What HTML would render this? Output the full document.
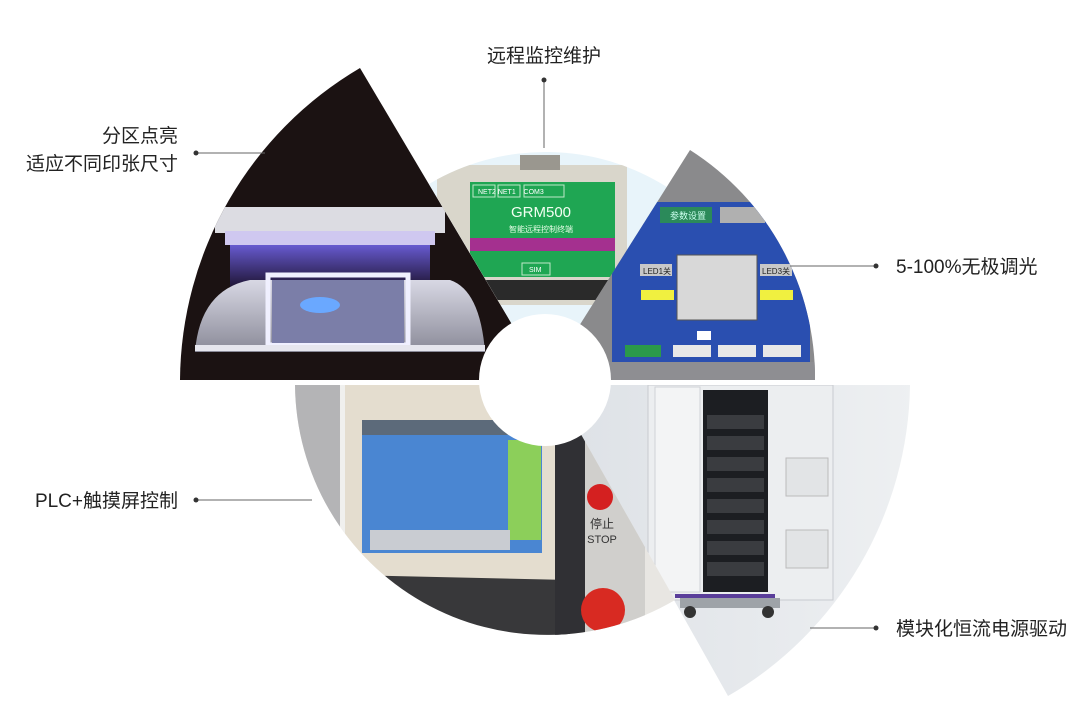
<!DOCTYPE html>
<html><head><meta charset="utf-8"><style>
html,body{margin:0;padding:0;background:#fff;width:1080px;height:715px;overflow:hidden}
svg{display:block}
text{font-family:"Liberation Sans","Noto Sans CJK SC",sans-serif;fill:#222}
</style></head><body>
<svg width="1080" height="715" viewBox="0 0 1080 715">
<defs>
<clipPath id="cDark"><path d="M545 380 L360 68 A365 365 0 0 0 180 380 Z"/></clipPath>
<clipPath id="cGreen"><path d="M545 380 L429 184 A228 228 0 0 1 667 187 Z"/></clipPath>
<clipPath id="cBlue"><path d="M545 380 L690 150 A270 270 0 0 1 815 380 Z"/></clipPath>
<clipPath id="cBR"><path d="M553 385 L910 385 A365 365 0 0 1 728 696 Z"/></clipPath>
<clipPath id="cBL"><path d="M553 385 L295 385 A252 252 0 0 0 675 600 Z"/></clipPath>
<linearGradient id="glow" x1="0" y1="0" x2="0" y2="1"><stop offset="0" stop-color="#7a6cff"/><stop offset="1" stop-color="#1a1030"/></linearGradient>
<linearGradient id="drum" x1="0" y1="0" x2="0" y2="1"><stop offset="0" stop-color="#d8d8e4"/><stop offset="1" stop-color="#8a8a98"/></linearGradient>
<linearGradient id="brbg" x1="0" y1="0" x2="1" y2="0"><stop offset="0" stop-color="#dde1e6"/><stop offset="1" stop-color="#eef0f2"/></linearGradient>
</defs>

<g clip-path="url(#cDark)">
<rect x="170" y="60" width="400" height="330" fill="#1b1212"/>
<rect x="215" y="207" width="230" height="26" fill="#dcdce2"/>
<rect x="225" y="231" width="210" height="14" fill="#cfc8f0"/>
<rect x="230" y="245" width="200" height="45" fill="url(#glow)" opacity="0.8"/>
<path d="M195 352 Q200 290 250 280 L450 280 Q480 290 485 352 Z" fill="url(#drum)"/>
<rect x="268" y="275" width="140" height="70" fill="none" stroke="#f0f0ff" stroke-width="5"/>
<rect x="272" y="280" width="132" height="63" fill="#7b7ea8"/>
<ellipse cx="320" cy="305" rx="20" ry="8" fill="#6aa8ff"/>
<rect x="195" y="345" width="290" height="6" fill="#e6e6ee"/>
</g>

<g clip-path="url(#cGreen)">
<rect x="420" y="140" width="260" height="250" fill="#e8f4fa"/>
<rect x="437" y="165" width="190" height="140" fill="#d9d6cb"/>
<rect x="520" y="155" width="40" height="15" fill="#9a978f"/>
<rect x="470" y="182" width="145" height="95" fill="#1fa653"/>
<rect x="470" y="238" width="145" height="13" fill="#a4308f"/>
<text x="541" y="217" font-size="15" text-anchor="middle" style="fill:#f2fff2">GRM500</text>
<text x="541" y="232" font-size="8" text-anchor="middle" style="fill:#e8ffe8">智能远程控制终端</text>
<rect x="473" y="185" width="22" height="12" fill="none" stroke="#bfe8c8"/>
<rect x="498" y="185" width="22" height="12" fill="none" stroke="#bfe8c8"/>
<rect x="524" y="185" width="40" height="12" fill="none" stroke="#bfe8c8"/>
<text x="478" y="194" font-size="7" style="fill:#fff">NET2 NET1 &#160;&#160;&#160;COM3</text>
<rect x="522" y="263" width="28" height="12" fill="none" stroke="#bfe8c8"/>
<text x="529" y="272" font-size="7" style="fill:#fff">SIM</text>
<rect x="470" y="280" width="145" height="20" fill="#2a2a2a"/>
</g>

<g clip-path="url(#cBlue)">
<rect x="560" y="140" width="270" height="250" fill="#8a8a8c"/>
<rect x="612" y="202" width="198" height="160" fill="#2a4fb0"/>
<rect x="660" y="207" width="52" height="16" fill="#2b8a5a"/>
<text x="670" y="219" font-size="9" style="fill:#cfe">参数设置</text>
<rect x="720" y="207" width="45" height="16" fill="#b0b0b0"/>
<rect x="640" y="264" width="32" height="12" fill="#c8c8c8"/>
<text x="643" y="274" font-size="8" style="fill:#222">LED1关</text>
<rect x="760" y="264" width="32" height="12" fill="#c8c8c8"/>
<text x="762" y="274" font-size="8" style="fill:#222">LED3关</text>
<rect x="641" y="290" width="33" height="10" fill="#f0f040"/>
<rect x="760" y="290" width="33" height="10" fill="#f0f040"/>
<rect x="677" y="255" width="80" height="65" fill="#d8d8d8" stroke="#555"/>
<rect x="625" y="345" width="36" height="12" fill="#2b9a4a"/>
<rect x="673" y="345" width="38" height="12" fill="#e8e8e8"/>
<rect x="718" y="345" width="38" height="12" fill="#e8e8e8"/>
<rect x="763" y="345" width="38" height="12" fill="#e8e8e8"/>
<rect x="697" y="331" width="14" height="9" fill="#fff"/>
<rect x="560" y="362" width="270" height="20" fill="#8e8e92"/>
</g>

<g clip-path="url(#cBR)">
<rect x="550" y="385" width="370" height="320" fill="url(#brbg)"/>
<rect x="648" y="385" width="185" height="215" fill="#eceef0" stroke="#c8cbd0"/>
<rect x="655" y="387" width="45" height="205" fill="#f3f4f5" stroke="#cfd2d6"/>
<rect x="703" y="390" width="65" height="202" fill="#1c1e22"/>
<g fill="#3a3c40"><rect x="707" y="415" width="57" height="14"/><rect x="707" y="436" width="57" height="14"/><rect x="707" y="457" width="57" height="14"/><rect x="707" y="478" width="57" height="14"/><rect x="707" y="499" width="57" height="14"/><rect x="707" y="520" width="57" height="14"/><rect x="707" y="541" width="57" height="14"/><rect x="707" y="562" width="57" height="14"/></g>
<rect x="786" y="458" width="42" height="38" fill="#e2e4e6" stroke="#bbb"/>
<rect x="786" y="530" width="42" height="38" fill="#e2e4e6" stroke="#bbb"/>
<rect x="675" y="594" width="100" height="4" fill="#5a3e9a"/>
<rect x="680" y="598" width="100" height="10" fill="#9ea3a8"/>
<circle cx="768" cy="612" r="6" fill="#333"/><circle cx="690" cy="612" r="6" fill="#333"/>
</g>

<g clip-path="url(#cBL)">
<rect x="290" y="385" width="390" height="260" fill="#e8e6e2"/>
<rect x="290" y="385" width="50" height="260" fill="#b4b4b6"/>
<rect x="340" y="385" width="10" height="260" fill="#f0f0ee"/>
<rect x="345" y="385" width="235" height="195" fill="#e4ddcf"/>
<path d="M350 575 L570 580 L570 640 L350 640 Z" fill="#38383a"/>
<rect x="555" y="430" width="30" height="210" fill="#303034"/>
<rect x="362" y="420" width="180" height="133" fill="#4a86d2"/>
<rect x="362" y="420" width="180" height="15" fill="#5c6a7a"/>
<rect x="508" y="440" width="33" height="100" fill="#8ccf5a"/>
<rect x="370" y="530" width="140" height="20" fill="#c9ccd2"/>
<rect x="585" y="440" width="60" height="200" fill="#d0cfcc"/>
<circle cx="600" cy="497" r="13" fill="#d42020"/>
<text x="602" y="528" font-size="12" text-anchor="middle" style="fill:#333">停止</text>
<text x="602" y="543" font-size="11" text-anchor="middle" style="fill:#333">STOP</text>
<circle cx="603" cy="610" r="22" fill="#d82a22"/>
</g>

<circle cx="545" cy="380" r="66" fill="#fff"/>

<g stroke="#666" stroke-width="1" fill="none">
<line x1="544" y1="80" x2="544" y2="148"/>
<line x1="196" y1="153" x2="265" y2="153"/>
<line x1="790" y1="266" x2="876" y2="266"/>
<line x1="196" y1="500" x2="312" y2="500"/>
<line x1="810" y1="628" x2="876" y2="628"/>
</g>
<g fill="#333">
<circle cx="544" cy="80" r="2.5"/><circle cx="196" cy="153" r="2.5"/><circle cx="876" cy="266" r="2.5"/><circle cx="196" cy="500" r="2.5"/><circle cx="876" cy="628" r="2.5"/>
</g>

<text x="544" y="62" font-size="19" text-anchor="middle">远程监控维护</text>
<text x="178" y="142" font-size="19" text-anchor="end">分区点亮</text>
<text x="178" y="170" font-size="19" text-anchor="end">适应不同印张尺寸</text>
<text x="896" y="273" font-size="19">5-100%无极调光</text>
<text x="178" y="507" font-size="19" text-anchor="end">PLC+触摸屏控制</text>
<text x="896" y="635" font-size="19">模块化恒流电源驱动</text>
</svg>
</body></html>
